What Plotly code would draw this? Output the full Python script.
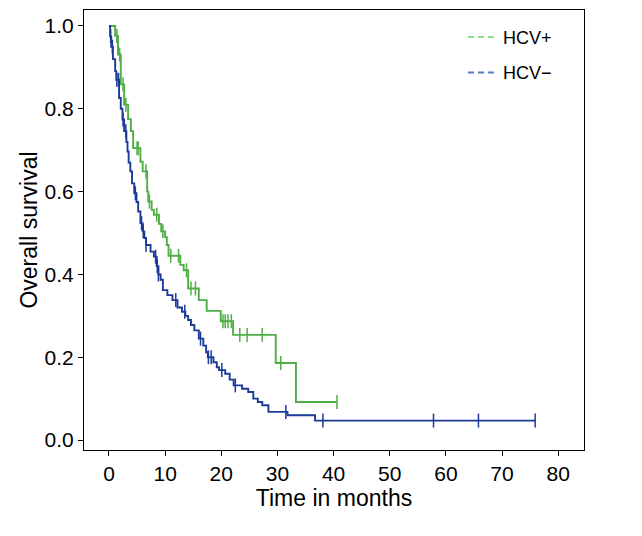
import plotly.graph_objects as go
import numpy as np

# ---- data ----
hcv_pos_times = [0, 1.1, 1.6, 2.1, 2.7, 3.4, 3.9, 4.3, 5.6, 6.0, 6.8, 7.0, 7.6, 8.0, 8.9, 9.3, 10.0, 10.3,
                 10.6, 12.7, 13.3, 14.1, 16.0, 17.4, 19.9, 22.1, 29.7, 33.3]
hcv_pos_surv = [1.0, 0.976, 0.931, 0.859, 0.81, 0.775, 0.746, 0.705, 0.672, 0.649, 0.60, 0.576, 0.556, 0.544,
                0.522, 0.504, 0.49, 0.471, 0.445, 0.423, 0.41, 0.366, 0.338, 0.312, 0.287, 0.254, 0.186, 0.092]
hcv_pos_end = 40.6
hcv_pos_censor = [1.4, 1.9, 2.5, 3.0, 5.0, 5.2, 6.6, 7.2, 8.5, 9.6, 11.0, 12.4, 13.8, 14.6, 15.4,
                  20.3, 20.7, 21.2, 21.8, 23.3, 24.6, 27.3, 30.6, 40.6]

hcv_neg_times = [0, 0.2, 0.4, 0.7, 1.1, 1.3, 1.8, 2.1, 2.4, 2.7, 3.1, 3.3, 3.5, 3.8, 4.1, 4.5, 4.9, 5.2, 5.6,
                 6.0, 6.3, 6.6, 7.4, 8.0, 8.5, 8.8, 9.2, 9.6, 10.4, 11.3, 12.2, 13.0, 13.6, 14.1, 14.6, 15.2,
                 16.0, 16.8, 17.3, 17.6, 18.6, 19.2, 19.6, 20.7, 21.5, 22.2, 23.7, 24.8, 25.7, 26.5, 27.3,
                 28.4, 31.8, 36.7]
hcv_neg_surv = [1.0, 0.975, 0.95, 0.92, 0.891, 0.87, 0.826, 0.80, 0.774, 0.746, 0.72, 0.697, 0.67, 0.649,
                0.62, 0.596, 0.575, 0.552, 0.524, 0.504, 0.488, 0.471, 0.455, 0.443, 0.42, 0.40, 0.387,
                0.362, 0.35, 0.338, 0.32, 0.31, 0.30, 0.29, 0.278, 0.265, 0.245, 0.228, 0.212, 0.2, 0.188,
                0.176, 0.169, 0.16, 0.146, 0.132, 0.124, 0.116, 0.1, 0.092, 0.084, 0.068, 0.06, 0.047]
hcv_neg_end = 75.9
hcv_neg_censor = [0.3, 0.6, 1.4, 1.7, 2.5, 3.0, 4.7, 5.8, 6.1, 6.6, 8.3, 8.6, 8.8, 11.9, 13.5, 16.3, 17.7,
                  18.2, 20.1, 22.5, 31.5, 38.1, 57.8, 65.8, 75.9]

series_names = ["HCV+", "HCV\u2212"]
x_ticks = [0, 10, 20, 30, 40, 50, 60, 70, 80]
y_ticks = [0.0, 0.2, 0.4, 0.6, 0.8, 1.0]

GREEN = "#4fae45"
BLUE = "#1c3a98"
LEG_GREEN = "#8fe08a"
LEG_BLUE = "#4f7fc6"


def surv_at(times, surv, t):
    idx = np.searchsorted(np.array(times), t, side="right") - 1
    return surv[max(idx, 0)]


fig = go.Figure()

for times, surv, end, cens, color in [
    (hcv_pos_times, hcv_pos_surv, hcv_pos_end, hcv_pos_censor, GREEN),
    (hcv_neg_times, hcv_neg_surv, hcv_neg_end, hcv_neg_censor, BLUE),
]:
    xs = list(times) + [end]
    ys = list(surv) + [surv[-1]]
    fig.add_trace(go.Scatter(x=xs, y=ys, mode="lines", line=dict(color=color, width=1.9, shape="hv"),
                             showlegend=False, hoverinfo="skip"))
    cy = [surv_at(times, surv, c) for c in cens]
    fig.add_trace(go.Scatter(x=cens, y=cy, mode="markers",
                             marker=dict(symbol="line-ns", size=10, line=dict(color=color, width=1.5)),
                             showlegend=False, hoverinfo="skip"))

# legend entries
for name, color, grp in [(series_names[0], LEG_GREEN, "a"), (series_names[1], LEG_BLUE, "b")]:
    fig.add_trace(go.Scatter(x=[None], y=[None], mode="lines", name=name, legendgroup=grp,
                             line=dict(color=color, width=2, dash="6px,4px")))

fig.update_layout(
    width=642, height=536,
    margin=dict(l=76, r=66, t=2, b=94),
    paper_bgcolor="white", plot_bgcolor="white",
    font=dict(family="Liberation Sans, Arial, sans-serif", color="black"),
    legend=dict(x=0.758, y=0.98, xanchor="left", yanchor="top", bgcolor="rgba(0,0,0,0)",
                font=dict(size=18), tracegroupgap=9, itemwidth=30),
    xaxis=dict(range=[-4.45, 84.6], tickvals=x_ticks, ticks="outside", ticklen=5, tickwidth=1,
               tickcolor="black", showline=True, linecolor="black", linewidth=1, mirror=True,
               showgrid=False, zeroline=False, tickfont=dict(size=21),
               title=dict(text="Time in months", font=dict(size=23), standoff=0)),
    yaxis=dict(range=[-0.024, 1.0386], tickvals=y_ticks, tickformat=".1f", ticks="outside", ticklen=5,
               tickwidth=1, tickcolor="black", showline=True, linecolor="black", linewidth=1, mirror=True,
               showgrid=False, zeroline=False, tickfont=dict(size=21),
               title=dict(text="Overall survival", font=dict(size=23), standoff=0)),
)

fig.write_html("out.html")
